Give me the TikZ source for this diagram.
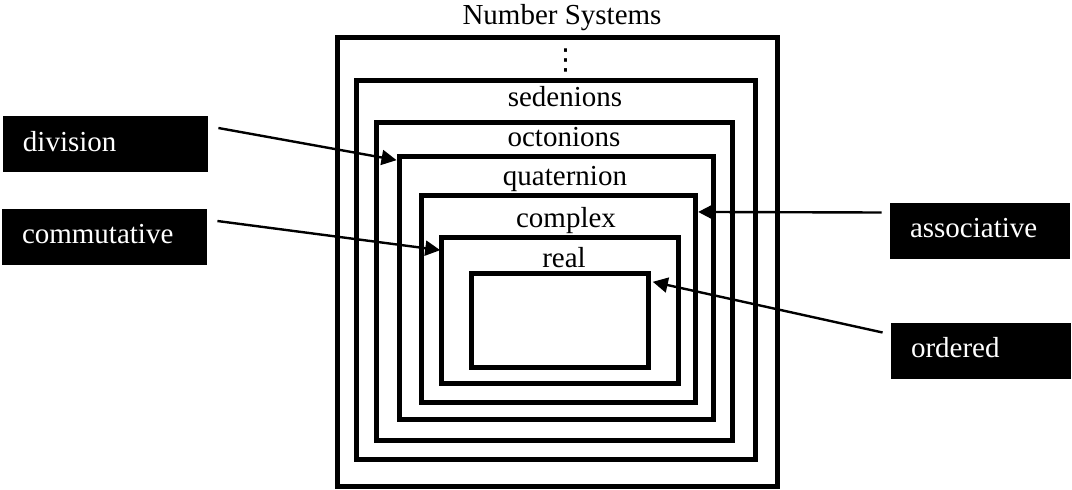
\documentclass[tikz,border=0pt]{standalone}
\usepackage{fontspec}
\setmainfont{Liberation Serif}
\newfontfamily\symbolfont{DejaVu Sans}
\usetikzlibrary{
    arrows.meta,
    calc
}

\begin{document}
\begin{tikzpicture}[
        x=0.5pt, y=-0.5pt,
        >={Triangle[length=7.5pt,width=7.5pt]},
        font=\fontsize{14.5}{17}\selectfont,
        frame/.style={
            draw,
            line width=2.5pt,
            inner sep=0pt
        },
        setname/.style={anchor=base},
        tag/.style={
            fill=black,
            text=white,
            minimum height=28pt,
            inner xsep=10pt,
            text height=0.72em,
            text depth=0pt,
            align=left
        },
        link/.style={->, line width=1.2pt}
    ]
        \useasboundingbox (0,0) rectangle (1072,489);

        % nested frames, outermost first
        \node[frame, minimum width=220pt, minimum height=224.7pt] (outer) at (557,262) {};
        \node[frame, minimum width=199.85pt, minimum height=189.65pt] (sed) at (555.9,269.7) {};
        \node[frame, minimum width=177.8pt, minimum height=159.2pt] (oct) at (554.5,281.5) {};
        \node[frame, minimum width=157.15pt, minimum height=131.65pt] (quat) at (556.2,288.3) {};
        \node[frame, minimum width=137pt, minimum height=103.35pt] (cplx) at (558.7,299.3) {};
        \node[frame, minimum width=118.3pt, minimum height=73.15pt] (real) at (560,310.8) {};
        \node[frame, minimum width=88.3pt, minimum height=47pt] (core) at (560,320.3) {};

        % names of the systems
        \node[setname] (title) at (562,24) {Number Systems};
        \node[inner sep=0pt, font=\symbolfont\fontsize{14.5}{17}\selectfont] (dots) at (566,60) {⋮};
        \node[setname] (sedname) at (565,106.7) {sedenions};
        \node[setname] (octname) at (564,146.7) {octonions};
        \node[setname] (quatname) at (565,185) {quaternion};
        \node[setname] (cplxname) at (566,227.3) {complex};
        \node[setname] (realname) at (564,267.3) {real};

        % properties
        \node[tag, text width=82.5pt] (division) at (105.5,144) {division};
        \node[tag, text width=82.5pt] (commutative) at (104.5,236.5) {commutative};
        \node[tag, text width=70pt] (associative) at (980,230.5) {associative};
        \node[tag, text width=70pt] (ordered) at (981,350.5) {ordered};

        \draw[link] ($(division.east)+(10,-16)$) -- ($(quat.north west)+(0,6)$);
        \draw[link] ($(commutative.east)+(10,-15.5)$) -- ($(real.north west)+(1,15)$);
        \draw[link] ($(associative.west)+(-8,-18)$) -- ($(cplx.north east)+(0,18.5)$);
        \draw[link] ($(ordered.west)+(-8,-18)$) -- ($(core.north east)+(2,11)$);
    \end{tikzpicture}
\end{document}
